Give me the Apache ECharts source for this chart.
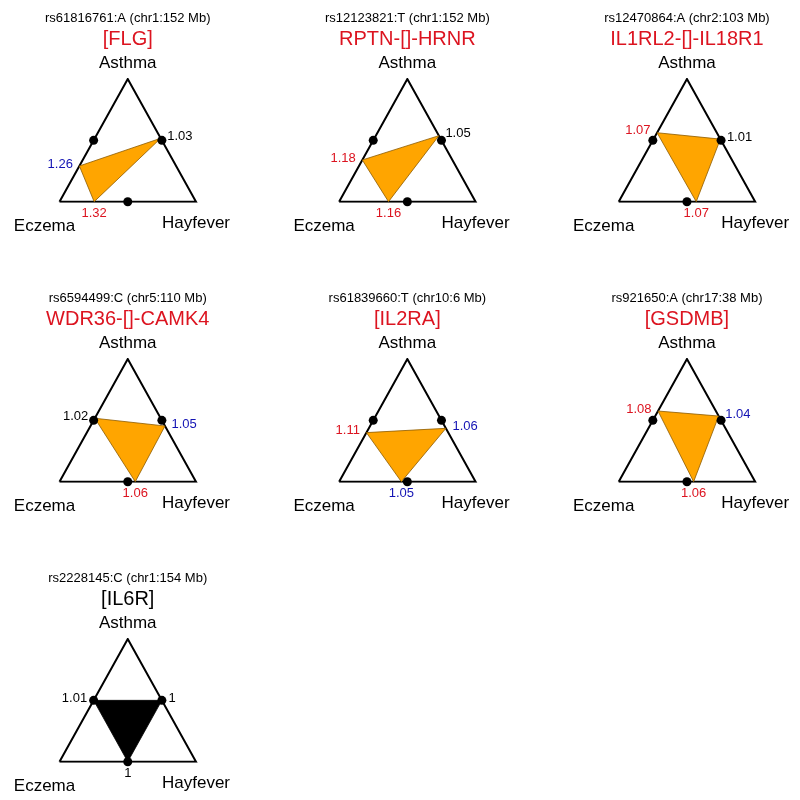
<!DOCTYPE html>
<html>
<head>
<meta charset="utf-8">
<script src="https://cdn.jsdelivr.net/npm/echarts@6/dist/echarts.min.js"></script>
<style>html,body{margin:0;padding:0;background:#fff}#c{width:800px;height:800px}</style>
</head>
<body>
<div id="c"></div>
<script>
// ---- data ----
const snps = ["rs61816761:A (chr1:152 Mb)", "rs12123821:T (chr1:152 Mb)", "rs12470864:A (chr2:103 Mb)",
              "rs6594499:C (chr5:110 Mb)", "rs61839660:T (chr10:6 Mb)", "rs921650:A (chr17:38 Mb)",
              "rs2228145:C (chr1:154 Mb)"];
const genes = ["[FLG]", "RPTN-[]-HRNR", "IL1RL2-[]-IL18R1", "WDR36-[]-CAMK4", "[IL2RA]", "[GSDMB]", "[IL6R]"];
const geneColors = ["red", "red", "red", "red", "red", "red", "black"];
const vertexNames = ["Asthma", "Eczema", "Hayfever"];
// position of each point along its side (fraction from Asthma on the two upper sides, from Eczema on the base)
const leftPos   = [0.709, 0.660, 0.438, 0.483, 0.600, 0.424, 0.500];
const rightPos  = [0.483, 0.462, 0.490, 0.546, 0.565, 0.465, 0.500];
const bottomPos = [0.254, 0.362, 0.568, 0.555, 0.456, 0.549, 0.500];
// labels
const leftVals   = ["1.26", "1.18", "1.07", "1.02", "1.11", "1.08", "1.01"];
const rightVals  = ["1.03", "1.05", "1.01", "1.05", "1.06", "1.04", "1"];
const bottomVals = ["1.32", "1.16", "1.07", "1.06", "1.05", "1.06", "1"];
const leftCol   = ["blue", "red", "red", "black", "red", "red", "black"];
const rightCol  = ["black", "black", "black", "blue", "blue", "blue", "black"];
const bottomCol = ["red", "red", "red", "red", "blue", "red", "black"];
const fillCol   = ["orange", "orange", "orange", "orange", "orange", "orange", "black"];

// ---- styles ----
const COLORS = {red: "#DC1420", blue: "#1414B4", black: "#000000", orange: "#FFA500"};
const FONT = "'Liberation Sans', Arial, Helvetica, sans-serif";
const GW = 136.5, GH = 122.7;

const chart = echarts.init(document.getElementById('c'), null, {renderer: 'canvas'});
const grids = [], xAxes = [], yAxes = [], series = [], graphics = [];

snps.forEach((snp, i) => {
  const col = i % 3, row = Math.floor(i / 3);
  const L = 59.5 + 279.6 * col, T = 79 + 280 * row;
  const cx = L + GW / 2;
  grids.push({left: L, top: T, width: GW, height: GH});
  xAxes.push({gridIndex: i, type: 'value', min: 0, max: 1, show: false});
  yAxes.push({gridIndex: i, type: 'value', min: 0, max: 1, show: false});

  // triangle outline
  series.push({
    type: 'line', xAxisIndex: i, yAxisIndex: i, symbol: 'none', silent: true, z: 2,
    data: [[0, 0], [1, 0], [0.5, 1], [0, 0]],
    lineStyle: {color: '#000', width: 2, join: 'miter', opacity: 1}
  });

  const lp = [0.5 - 0.5 * leftPos[i], 1 - leftPos[i]];
  const rp = [0.5 + 0.5 * rightPos[i], 1 - rightPos[i]];
  const bp = [bottomPos[i], 0];

  // filled polygon
  series.push({
    type: 'custom', xAxisIndex: i, yAxisIndex: i, silent: true, z: 3,
    data: [[lp[0], lp[1], rp[0], rp[1], bp[0], bp[1]]],
    encode: {x: [0, 2, 4], y: [1, 3, 5]},
    renderItem: (params, api) => {
      const pts = [api.coord([api.value(0), api.value(1)]),
                   api.coord([api.value(2), api.value(3)]),
                   api.coord([api.value(4), api.value(5)])];
      const fc = COLORS[fillCol[i]];
      return {type: 'polygon', shape: {points: pts},
              style: {fill: fc, stroke: fillCol[i] === 'orange' ? '#8C5A00' : '#000', lineWidth: 0.8}};
    }
  });

  // midpoint dots
  series.push({
    type: 'scatter', xAxisIndex: i, yAxisIndex: i, silent: true, z: 4,
    symbolSize: 9, itemStyle: {color: '#000', opacity: 1},
    data: [[0.25, 0.5], [0.75, 0.5], [0.5, 0]]
  });

  // value labels
  const lab = (pos, txt, c, where, off) => ({
    value: pos,
    label: {show: true, position: where, distance: 6, offset: off, formatter: txt,
            color: COLORS[c], opacity: 1, fontSize: 13, fontFamily: FONT}
  });
  series.push({
    type: 'scatter', xAxisIndex: i, yAxisIndex: i, silent: true, z: 5,
    symbolSize: 1, itemStyle: {color: 'rgba(0,0,0,0)', opacity: 1},
    data: [lab(lp, leftVals[i], leftCol[i], 'left', [0, -2]),
           lab(rp, rightVals[i], rightCol[i], 'right', [0, -2]),
           lab(bp, bottomVals[i], bottomCol[i], 'bottom', [0, -1.5])]
  });

  // titles and vertex names
  graphics.push({type: 'text', x: cx, y: T - 61, silent: true,
    style: {text: snp, fontSize: 13, fontFamily: FONT, fill: '#000', align: 'center', verticalAlign: 'middle'}});
  graphics.push({type: 'text', x: cx, y: T - 40, silent: true,
    style: {text: genes[i], fontSize: 20, fontFamily: FONT, fill: COLORS[geneColors[i]], align: 'center', verticalAlign: 'middle'}});
  graphics.push({type: 'text', x: cx, y: T - 16, silent: true,
    style: {text: vertexNames[0], fontSize: 17, fontFamily: FONT, fill: '#000', align: 'center', verticalAlign: 'middle'}});
  graphics.push({type: 'text', x: L - 15, y: T + GH + 24.5, silent: true,
    style: {text: vertexNames[1], fontSize: 17, fontFamily: FONT, fill: '#000', align: 'center', verticalAlign: 'middle'}});
  graphics.push({type: 'text', x: L + GW, y: T + GH + 22, silent: true,
    style: {text: vertexNames[2], fontSize: 17, fontFamily: FONT, fill: '#000', align: 'center', verticalAlign: 'middle'}});
});

chart.setOption({
  animation: false,
  backgroundColor: '#fff',
  grid: grids, xAxis: xAxes, yAxis: yAxes, series: series,
  graphic: {elements: graphics}
});
</script>
</body>
</html>
